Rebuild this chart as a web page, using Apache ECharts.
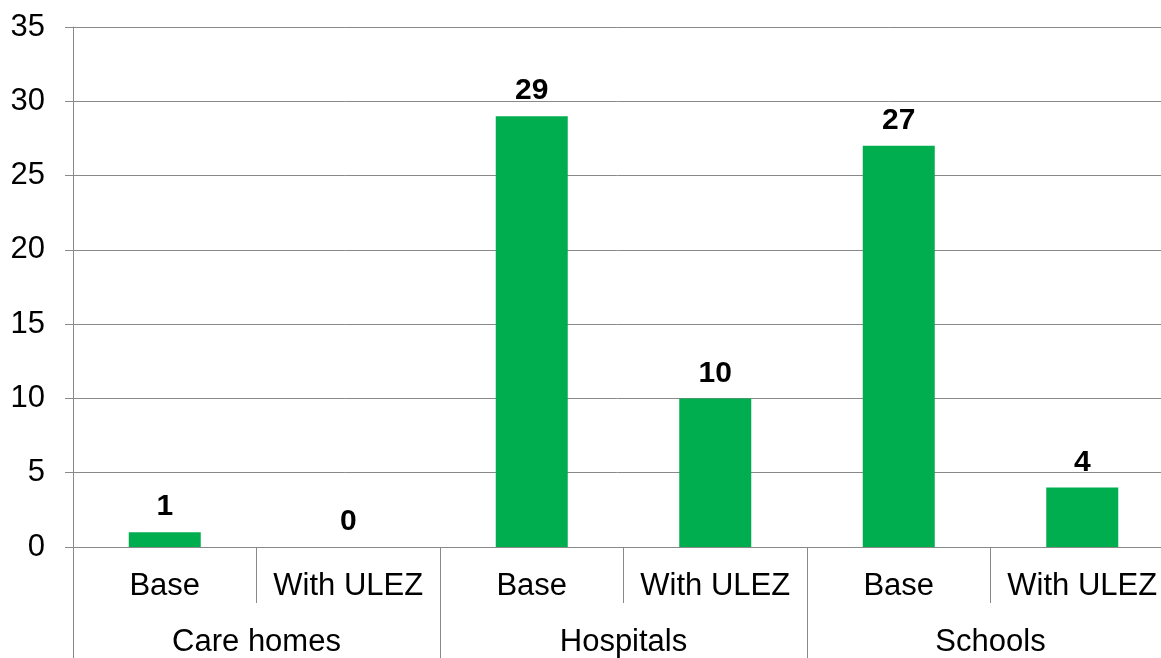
<!DOCTYPE html>
<html>
<head>
<meta charset="utf-8">
<script src="https://cdn.jsdelivr.net/npm/echarts@6/dist/echarts.min.js"></script>
<style>
    html, body { margin: 0; padding: 0; background: #fff; }
    #chart { width: 1161px; height: 658px; }
</style>
</head>
<body>
<div id="chart"></div>
<script>
// scenario labels (inner axis) and site groups (outer axis)
const scenarios = ['Base', 'With ULEZ', 'Base', 'With ULEZ', 'Base', 'With ULEZ'];
const groups = ['Care homes', 'Hospitals', 'Schools'];
const counts = [1, 0, 29, 10, 27, 4];
const yTicks = { min: 0, max: 35, step: 5 };

const lineColor = '#898989';
const fontFamily = '"Liberation Sans", Arial, sans-serif';

const chart = echarts.init(document.getElementById('chart'));

chart.setOption({
    animation: false,
    grid: {
        left: 73,
        top: 27,
        width: 1101,
        height: 520,
        containLabel: false,
        outerBoundsMode: 'none'
    },
    xAxis: [
        {
            type: 'category',
            data: scenarios,
            position: 'bottom',
            axisLine: { show: true, lineStyle: { color: lineColor, width: 1 } },
            axisTick: { show: true, interval: 0, length: 56, lineStyle: { color: lineColor } },
            axisLabel: {
                interval: 0,
                margin: 24,
                color: '#000',
                fontSize: 31,
                fontFamily: fontFamily
            },
            splitLine: { show: false }
        },
        {
            type: 'category',
            data: groups,
            position: 'bottom',
            offset: 0,
            axisLine: { show: false },
            axisTick: { show: true, interval: 0, length: 115, lineStyle: { color: lineColor } },
            axisLabel: {
                interval: 0,
                margin: 80,
                color: '#000',
                fontSize: 31,
                fontFamily: fontFamily
            },
            splitLine: { show: false }
        }
    ],
    yAxis: {
        type: 'value',
        min: yTicks.min,
        max: yTicks.max,
        interval: yTicks.step,
        axisLine: { show: true, lineStyle: { color: lineColor, width: 1 } },
        axisTick: { show: true, length: 8, lineStyle: { color: lineColor } },
        axisLabel: {
            margin: 28,
            color: '#000',
            fontSize: 31,
            fontFamily: fontFamily
        },
        splitLine: { show: true, lineStyle: { color: lineColor, width: 1 } }
    },
    series: [
        {
            type: 'bar',
            xAxisIndex: 0,
            data: counts,
            barWidth: 72,
            itemStyle: { color: '#00AE4F' },
            label: {
                show: true,
                position: 'top',
                distance: 10,
                color: '#000',
                fontWeight: 'bold',
                fontSize: 30,
                fontFamily: fontFamily
            }
        }
    ]
});
</script>
</body>
</html>
